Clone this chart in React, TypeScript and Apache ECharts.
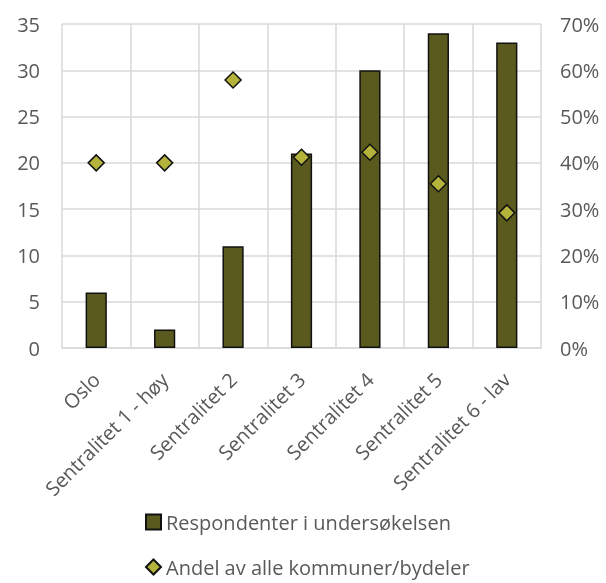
import React, { useEffect, useRef } from "react";
import * as echarts from "echarts";

const categories = ["Oslo", "Sentralitet 1 - høy", "Sentralitet 2", "Sentralitet 3", "Sentralitet 4", "Sentralitet 5", "Sentralitet 6 - lav"];
const respondenter = [6, 2, 11, 21, 30, 34, 33];
const andel = [0.4, 0.4, 0.579, 0.412, 0.423, 0.355, 0.292];
const leftTicks = [0, 35, 5];
const rightTicks = [0, 0.7, 0.1];
const seriesNames = ["Respondenter i undersøkelsen", "Andel av alle kommuner/bydeler"];

const FONT = "'Open Sans', Lato, sans-serif";

export default function App() {
  const ref = useRef<HTMLDivElement>(null);
  useEffect(() => {
    const chart = echarts.init(ref.current!, undefined, { renderer: "svg" });
    const legendBase = {
      orient: "horizontal",
      left: 145,
      itemWidth: 15,
      itemHeight: 15,
      itemGap: 6,
      padding: 0,
      textStyle: { fontSize: 20, color: "#595959", fontFamily: FONT },
    };
    chart.setOption({
      animation: false,
      textStyle: { fontFamily: FONT },
      grid: { left: 62, right: 65, top: 24, bottom: 235, containLabel: false },
      legend: [
        { ...legendBase, top: 512, data: [{ name: seriesNames[0], icon: "rect" }] },
        { ...legendBase, top: 557, data: [{ name: seriesNames[1], icon: "diamond" }] },
      ],
      xAxis: {
        type: "category",
        data: categories,
        axisLine: { show: true, lineStyle: { color: "#d9d9d9", width: 1.5 } },
        axisTick: { show: false },
        splitLine: { show: true, lineStyle: { color: "#d9d9d9", width: 1.5 } },
        axisLabel: { rotate: 45, fontSize: 20, color: "#595959", margin: 28, interval: 0, fontFamily: FONT },
      },
      yAxis: [
        {
          type: "value",
          min: leftTicks[0],
          max: leftTicks[1],
          interval: leftTicks[2],
          axisLine: { show: false },
          axisTick: { show: false },
          splitLine: { show: true, lineStyle: { color: "#d9d9d9", width: 1.5 } },
          axisLabel: { fontSize: 20, color: "#595959", margin: 22, fontFamily: FONT },
        },
        {
          type: "value",
          min: rightTicks[0],
          max: rightTicks[1],
          interval: rightTicks[2],
          axisLine: { show: false },
          axisTick: { show: false },
          splitLine: { show: false },
          axisLabel: {
            fontSize: 20,
            color: "#595959",
            margin: 19,
            fontFamily: FONT,
            formatter: (v: number) => Math.round(v * 100) + "%",
          },
        },
      ],
      series: [
        {
          name: seriesNames[0],
          type: "bar",
          data: respondenter,
          barWidth: "31%",
          itemStyle: { color: "#5a5a1e", borderColor: "#111", borderWidth: 1.5 },
          z: 2,
        },
        {
          name: seriesNames[1],
          type: "scatter",
          yAxisIndex: 1,
          data: andel,
          symbol: "diamond",
          symbolSize: 16,
          itemStyle: { color: "#b4b43c", borderColor: "#111", borderWidth: 1.5, opacity: 1 },
          z: 3,
        },
      ],
    });
    return () => chart.dispose();
  }, []);
  return <div ref={ref} style={{ position: "fixed", left: 0, top: 0, width: 606, height: 583 }} />;
}
